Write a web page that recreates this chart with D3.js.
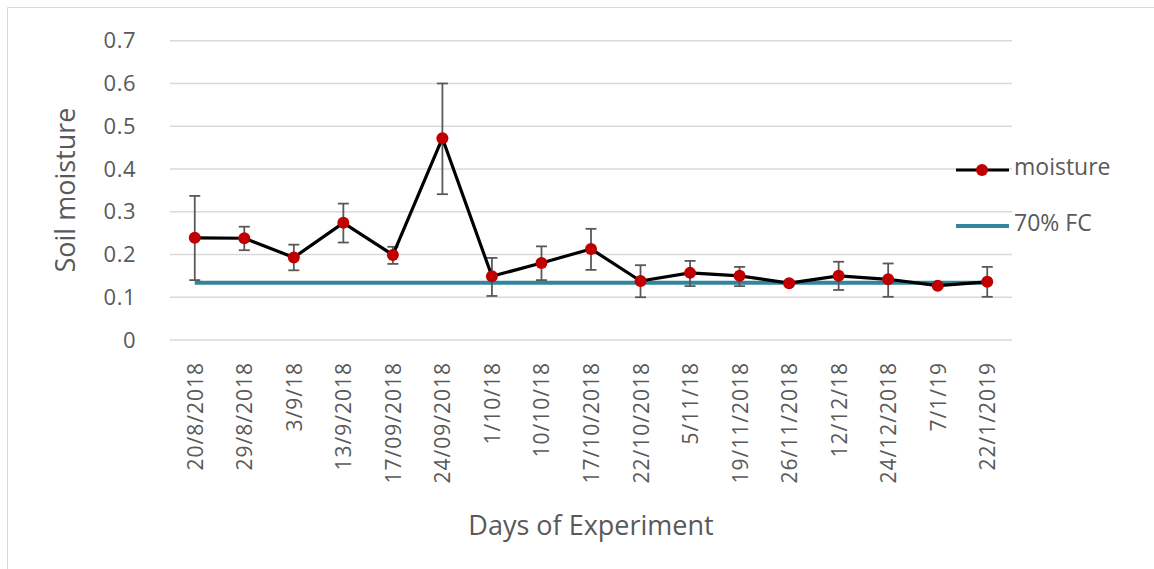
<!DOCTYPE html>
<html>
<head>
<meta charset="utf-8">
<script src="https://cdn.jsdelivr.net/npm/d3@7"></script>
<style>
  body { margin: 0; background: #fff; }
  svg { font-family: "Open Sans", "Noto Sans", sans-serif; }
</style>
</head>
<body>
<svg id="chart" width="1154" height="569"></svg>
<script>
// data
const dates = ['20/8/2018', '29/8/2018', '3/9/18', '13/9/2018', '17/09/2018', '24/09/2018',
  '1/10/18', '10/10/18', '17/10/2018', '22/10/2018', '5/11/18', '19/11/2018',
  '26/11/2018', '12/12/18', '24/12/2018', '7/1/19', '22/1/2019'];
const moisture = [0.239, 0.238, 0.193, 0.274, 0.199, 0.472, 0.149, 0.180, 0.213,
  0.138, 0.157, 0.150, 0.133, 0.150, 0.142, 0.127, 0.136];
const errUpper = [0.337, 0.265, 0.223, 0.319, 0.218, 0.600, 0.192, 0.219, 0.260,
  0.175, 0.185, 0.171, 0.136, 0.183, 0.179, 0.131, 0.171];
const errLower = [0.140, 0.210, 0.163, 0.228, 0.178, 0.341, 0.103, 0.140, 0.164,
  0.100, 0.126, 0.126, 0.130, 0.117, 0.101, 0.123, 0.101];
const fc70 = 0.134;
const yTicks = [0, 0.1, 0.2, 0.3, 0.4, 0.5, 0.6, 0.7];

const svg = d3.select('#chart');
const grey = '#595959';

// chart border (only left and top edges show in the picture)
svg.append('path')
  .attr('d', 'M7.5,569 V7.5 H1154')
  .attr('fill', 'none').attr('stroke', '#d9d9d9').attr('stroke-width', 1);

const x = d3.scaleBand().domain(dates).range([170, 1012]);
const y = d3.scaleLinear().domain([0, 0.7]).range([340, 40.7]);
const cx = d => x(d) + x.bandwidth() / 2;

// gridlines
svg.append('g').selectAll('line')
  .data(yTicks)
  .enter().append('line')
  .attr('x1', 170).attr('x2', 1012)
  .attr('y1', d => y(d)).attr('y2', d => y(d))
  .attr('stroke', '#d9d9d9').attr('stroke-width', 1.5);

// y axis labels
const yAxis = svg.append('g')
  .attr('transform', 'translate(136,0)')
  .call(d3.axisLeft(y).tickValues(yTicks).tickSize(0).tickPadding(0).tickFormat(d3.format('')));
yAxis.select('.domain').remove();
yAxis.selectAll('text')
  .attr('font-size', 22).attr('fill', grey).attr('font-family', '"Open Sans", sans-serif')
  .attr('letter-spacing', 0.5);

// x axis labels, rotated
const xAxis = svg.append('g')
  .attr('transform', 'translate(0,340)')
  .call(d3.axisBottom(x).tickSize(0).tickPadding(0));
xAxis.select('.domain').remove();
xAxis.selectAll('text')
  .attr('font-size', 21).attr('fill', grey).attr('font-family', '"Open Sans", sans-serif')
  .attr('letter-spacing', 1)
  .attr('text-anchor', 'end')
  .attr('dy', null)
  .attr('transform', 'translate(8,22) rotate(-90)');

// axis titles
svg.append('text')
  .attr('transform', 'translate(75,190) rotate(-90)')
  .attr('text-anchor', 'middle')
  .attr('font-size', 27).attr('font-weight', 500).attr('fill', grey)
  .text('Soil moisture');
svg.append('text')
  .attr('x', 591).attr('y', 535)
  .attr('text-anchor', 'middle')
  .attr('font-size', 27).attr('font-weight', 500).attr('fill', grey)
  .text('Days of Experiment');

// 70% FC reference line
svg.append('line')
  .attr('x1', cx(dates[0])).attr('x2', cx(dates[dates.length - 1]))
  .attr('y1', y(fc70)).attr('y2', y(fc70))
  .attr('stroke', '#31859c').attr('stroke-width', 4);

// error bars
const eb = svg.append('g').attr('stroke', grey).attr('stroke-width', 1.8);
dates.forEach((d, i) => {
  const px = cx(d);
  eb.append('line').attr('x1', px).attr('x2', px).attr('y1', y(errUpper[i])).attr('y2', y(errLower[i]));
  eb.append('line').attr('x1', px - 5.5).attr('x2', px + 5.5).attr('y1', y(errUpper[i])).attr('y2', y(errUpper[i]));
  eb.append('line').attr('x1', px - 5.5).attr('x2', px + 5.5).attr('y1', y(errLower[i])).attr('y2', y(errLower[i]));
});

// moisture line
const line = d3.line().x((d, i) => cx(dates[i])).y(d => y(d));
svg.append('path')
  .datum(moisture)
  .attr('d', line)
  .attr('fill', 'none').attr('stroke', '#000').attr('stroke-width', 3.2)
  .attr('stroke-linejoin', 'round');

svg.append('g').selectAll('circle')
  .data(moisture)
  .enter().append('circle')
  .attr('cx', (d, i) => cx(dates[i]))
  .attr('cy', d => y(d))
  .attr('r', 6)
  .attr('fill', '#c00000');

// legend
const lg = svg.append('g');
lg.append('line').attr('x1', 956).attr('x2', 1009).attr('y1', 170).attr('y2', 170)
  .attr('stroke', '#000').attr('stroke-width', 3.2);
lg.append('circle').attr('cx', 982).attr('cy', 170).attr('r', 6).attr('fill', '#c00000');
lg.append('text').attr('x', 1014).attr('y', 175).attr('font-size', 23).attr('fill', grey).text('moisture');
lg.append('line').attr('x1', 956).attr('x2', 1009).attr('y1', 226).attr('y2', 226)
  .attr('stroke', '#31859c').attr('stroke-width', 4);
lg.append('text').attr('x', 1014).attr('y', 231).attr('font-size', 23).attr('fill', grey).text('70% FC');
</script>
</body>
</html>
